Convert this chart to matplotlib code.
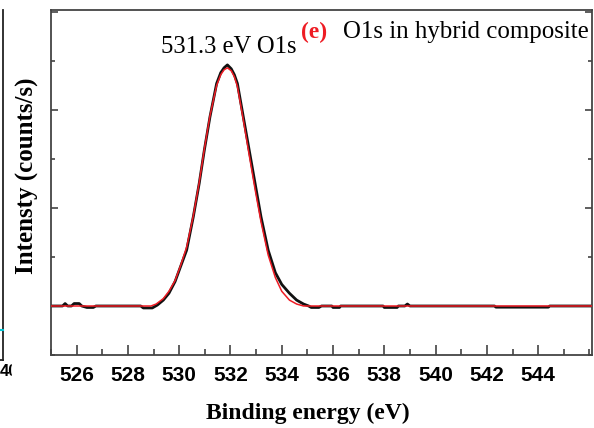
import matplotlib
matplotlib.use("Agg")
import matplotlib.pyplot as plt
from matplotlib.lines import Line2D
from matplotlib.patches import Rectangle
from matplotlib.ticker import MultipleLocator

exp_energy = [525.0, 525.45, 525.55, 525.65, 525.8, 525.9, 526.1, 526.2, 526.4, 526.65,
              526.75, 528.5, 528.6, 528.95, 529.15, 529.38, 529.6, 529.84, 530.05, 530.29,
              530.55, 530.78, 530.98, 531.2, 531.46, 531.62, 531.75, 531.88, 532.03, 532.15,
              532.27, 532.5, 532.73, 532.96, 533.19, 533.47, 533.75, 534.0, 534.3, 534.58,
              534.85, 535.05, 535.15, 535.45, 535.55, 535.95, 536.0, 536.25, 536.3, 537.95,
              538.0, 538.5, 538.55, 538.8, 538.9, 539.0, 542.3, 542.35, 544.4, 544.45, 546.2]
exp_counts = [0.0, 0.0, 0.025, 0.0, 0.0, 0.025, 0.025, 0.0, -0.015, -0.015,
              0.0, 0.0, -0.02, -0.02, 0.01, 0.06, 0.13, 0.25, 0.40, 0.57,
              0.91, 1.25, 1.59, 1.93, 2.27, 2.38, 2.43, 2.46, 2.42, 2.36,
              2.27, 1.93, 1.59, 1.25, 0.91, 0.57, 0.34, 0.22, 0.13, 0.06,
              0.02, 0.0, -0.015, -0.015, 0.0, 0.0, -0.015, -0.015, 0.0, 0.0,
              -0.015, -0.015, 0.0, 0.0, 0.02, 0.0, 0.0, -0.012, -0.012, 0.0, 0.0]

# fitted peak (red)
fit_energy = [525.0, 528.9, 529.1, 529.38, 529.6, 529.84, 530.05, 530.29, 530.55, 530.78,
              530.98, 531.2, 531.46, 531.62, 531.75, 531.88, 532.03, 532.15, 532.27, 532.5,
              532.73, 532.96, 533.19, 533.47, 533.75, 534.0, 534.3, 534.58, 534.85, 546.2]
fit_counts = [0.0, 0.0, 0.02, 0.075, 0.15, 0.26, 0.41, 0.60, 0.92, 1.26,
              1.60, 1.94, 2.25, 2.36, 2.41, 2.43, 2.40, 2.34, 2.24, 1.90,
              1.54, 1.19, 0.86, 0.52, 0.29, 0.15, 0.06, 0.02, 0.0, 0.0]

x_ticks = [526, 528, 530, 532, 534, 536, 538, 540, 542, 544]

fig = plt.figure(figsize=(5.94, 4.28), dpi=100)
ax = fig.add_axes([51 / 594, 73 / 428, 541 / 594, 345 / 428])

ax.plot(exp_energy, exp_counts, color="#111111", lw=2.0, zorder=2)
ax.plot(fit_energy, fit_counts, color="#ee1c24", lw=1.1, zorder=3)

ax.set_xlim(525.0, 546.1)
ax.set_ylim(-0.5, 3.02)

ax.set_xticks(x_ticks)
ax.xaxis.set_minor_locator(MultipleLocator(1))
ax.yaxis.set_major_locator(MultipleLocator(1))
ax.yaxis.set_minor_locator(MultipleLocator(0.5))
ax.tick_params(which="both", direction="in", color="#333333", width=1.1,
               left=True, right=True, top=False, bottom=True, labelleft=False)
ax.tick_params(which="major", axis="x", length=7, pad=8)
ax.tick_params(which="minor", axis="x", length=4)
ax.tick_params(which="major", axis="y", length=5)
ax.tick_params(which="minor", axis="y", length=3)
for lab in ax.get_xticklabels():
    lab.set_fontfamily("Liberation Sans")
    lab.set_fontweight("bold")
    lab.set_fontsize(15)

for sp in ax.spines.values():
    sp.set_color("#444444")
    sp.set_linewidth(1.3)

serif = "Liberation Serif"
ax.text(0.203, 0.893, "531.3 eV O1s", transform=ax.transAxes, ha="left", va="center",
        fontsize=17.7, family=serif)
ax.text(0.462, 0.936, "(e)", transform=ax.transAxes, ha="left", va="center",
        fontsize=17, family=serif, fontweight="bold", color="#ee1c24")
ax.text(0.540, 0.936, "O1s in hybrid composite", transform=ax.transAxes, ha="left",
        va="center", fontsize=17.9, family=serif)

fig.text(0.518, 0.035, "Binding energy (eV)", ha="center", va="center",
         fontsize=17, family=serif, fontweight="bold")
fig.text(0.0455, 0.589, "Intensty (counts/s)", ha="center", va="center", rotation=90,
         fontsize=18, family=serif, fontweight="bold")

# remnant of the neighbouring panel at the left edge
fig.add_artist(Line2D([3 / 594, 3 / 594], [418 / 428, 68 / 428], color="#222222", lw=1.3))
fig.add_artist(Line2D([0, 3 / 594], [68 / 428, 68 / 428], color="#222222", lw=1.3))
fig.add_artist(Line2D([0, 3 / 594], [98 / 428, 98 / 428], color="#00c8d8", lw=1.5))
fig.text(0.0, 56 / 428, "40", ha="left", va="center", fontsize=12,
         family="Liberation Sans", fontweight="bold")
fig.add_artist(Rectangle((12 / 594, 40 / 428), 30 / 594, 30 / 428, color="white", zorder=5))

fig.savefig("out.png", dpi=100)
